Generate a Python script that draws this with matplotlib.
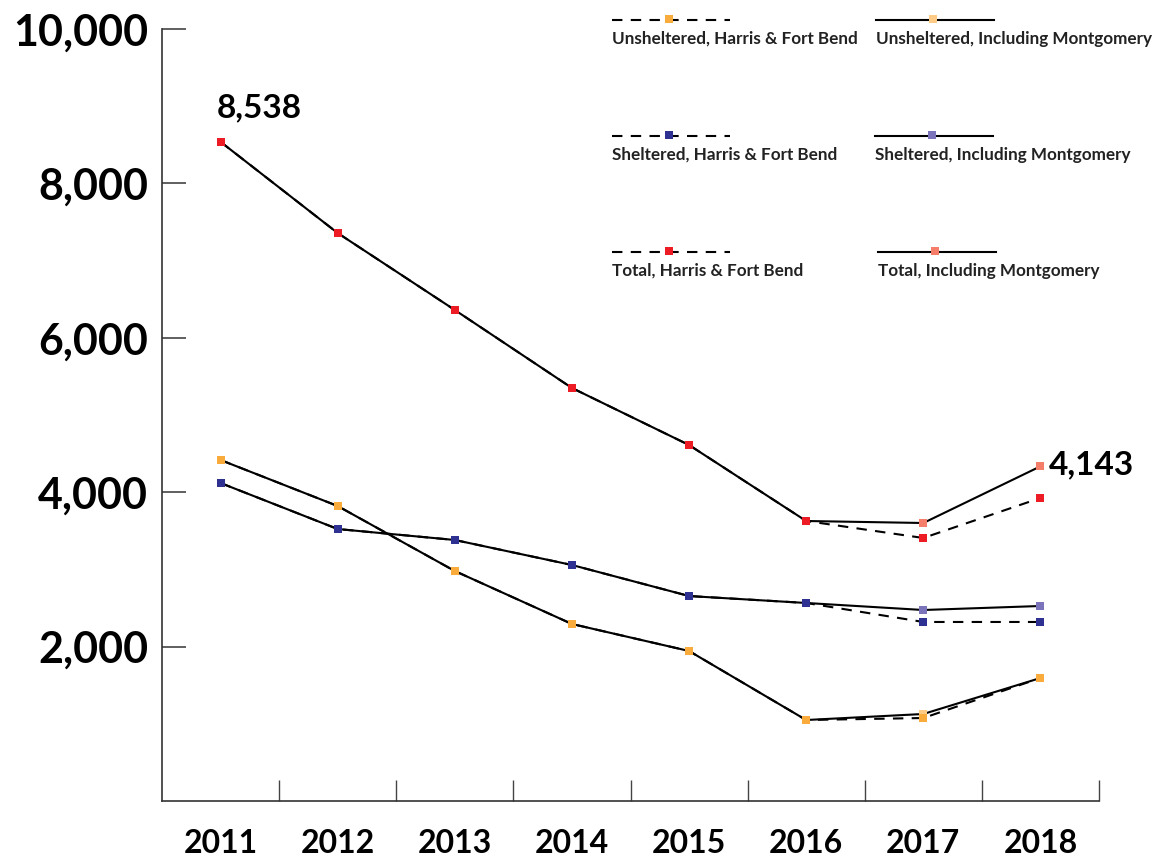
import matplotlib.pyplot as plt
from matplotlib.lines import Line2D

plt.rcParams["font.family"] = ["Lato", "DejaVu Sans"]

years = ["2011", "2012", "2013", "2014", "2015", "2016", "2017", "2018"]

# Harris & Fort Bend (dashed)
unsheltered_hfb = [4417, 3821, 2979, 2293, 1943, 1049, 1075, 1593]
sheltered_hfb = [4119, 3523, 3381, 3057, 2655, 2565, 2319, 2319]
total_hfb = [8538, 7357, 6360, 5350, 4611, 3627, 3407, 3925]

# Including Montgomery (solid)
unsheltered_mont = [4417, 3821, 2979, 2293, 1943, 1049, 1127, 1593]
sheltered_mont = [4119, 3523, 3381, 3057, 2655, 2565, 2474, 2526]
total_mont = [8538, 7357, 6360, 5350, 4611, 3627, 3601, 4335]

# labels printed on the chart (the 2018 point sits a bit above its label value)
first_label = "8,538"
last_label = "4,143"

y_ticks = [2000, 4000, 6000, 8000, 10000]

SERIES = [
    # label, values, linestyle, marker colour
    ("Unsheltered, Including Montgomery", unsheltered_mont, "-", "#FDCB86"),
    ("Sheltered, Including Montgomery", sheltered_mont, "-", "#7B74BA"),
    ("Total, Including Montgomery", total_mont, "-", "#F47E6A"),
    ("Unsheltered, Harris & Fort Bend", unsheltered_hfb, (0, (5, 4)), "#F9AC3B"),
    ("Sheltered, Harris & Fort Bend", sheltered_hfb, (0, (5, 4)), "#2E3192"),
    ("Total, Harris & Fort Bend", total_hfb, (0, (5, 4)), "#ED1C24"),
]

fig = plt.figure(figsize=(11.67, 8.57), dpi=100)
ax = fig.add_axes([162 / 1167, 1 - 801 / 857, (1099 - 162) / 1167, (801 - 29) / 857])

x = list(range(len(years)))
for label, vals, ls, col in SERIES:
    ax.plot(x, vals, color="black", linestyle=ls, linewidth=1.5,
            marker="s", markersize=5.5, markerfacecolor=col,
            markeredgecolor=col, markeredgewidth=0)

# harris markers redrawn on top where they coincide early on
for label, vals, ls, col in SERIES[3:]:
    ax.plot(x[:6], vals[:6], linestyle="none", marker="s", markersize=5.5,
            markerfacecolor=col, markeredgewidth=0)

ax.set_xlim(-0.5, len(years) - 0.5)
ax.set_ylim(0, 10000)

ax.set_yticks(y_ticks)
ax.set_yticklabels([f"{v:,}" for v in y_ticks], fontsize=31, fontweight="bold")
ax.tick_params(axis="y", direction="in", length=17, width=1.2, color="#444444", pad=10)

ax.set_xticks([i + 0.5 for i in range(len(years))])
ax.set_xticklabels([])
ax.set_xticks(x, minor=True)
ax.set_xticklabels(years, minor=True, fontsize=23, fontweight="bold")
ax.tick_params(axis="x", which="major", direction="in", length=15, width=1, color="#444444")
ax.tick_params(axis="x", which="minor", length=0, pad=20)

for s in ["top", "right"]:
    ax.spines[s].set_visible(False)
for s in ["left", "bottom"]:
    ax.spines[s].set_color("#333333")
    ax.spines[s].set_linewidth(1.2)

# value annotations
ax.annotate(first_label, (0, total_hfb[0]), xytext=(-3, 14), textcoords="offset points",
            fontsize=24, fontweight="bold", ha="left", va="bottom")
ax.annotate(last_label, (7, total_mont[-1]), xytext=(6, 1), textcoords="offset points",
            fontsize=24, fontweight="bold", ha="left", va="center")

# custom legend: handle line above the label
legend_pos = {
    "Unsheltered, Harris & Fort Bend": (612, 20),
    "Sheltered, Harris & Fort Bend": (612, 136),
    "Total, Harris & Fort Bend": (612, 252),
    "Unsheltered, Including Montgomery": (876, 20),
    "Sheltered, Including Montgomery": (875, 136),
    "Total, Including Montgomery": (878, 252),
}
W, H = 1167, 857
for label, vals, ls, col in SERIES:
    px, py = legend_pos[label]
    fy = 1 - py / H
    fig.add_artist(Line2D([px / W, (px + 118) / W], [fy, fy], color="black",
                          linestyle=ls, linewidth=1.5, transform=fig.transFigure))
    fig.add_artist(Line2D([(px + 57) / W], [fy + 1.5 / H], linestyle="none", marker="s",
                          markersize=5.5, markerfacecolor=col, markeredgewidth=0,
                          transform=fig.transFigure))
    fig.text(px / W, 1 - (py + 19) / H, label, fontsize=12.3, fontweight="bold",
             ha="left", va="center", color="#222222")

fig.savefig("out.png", dpi=100)
